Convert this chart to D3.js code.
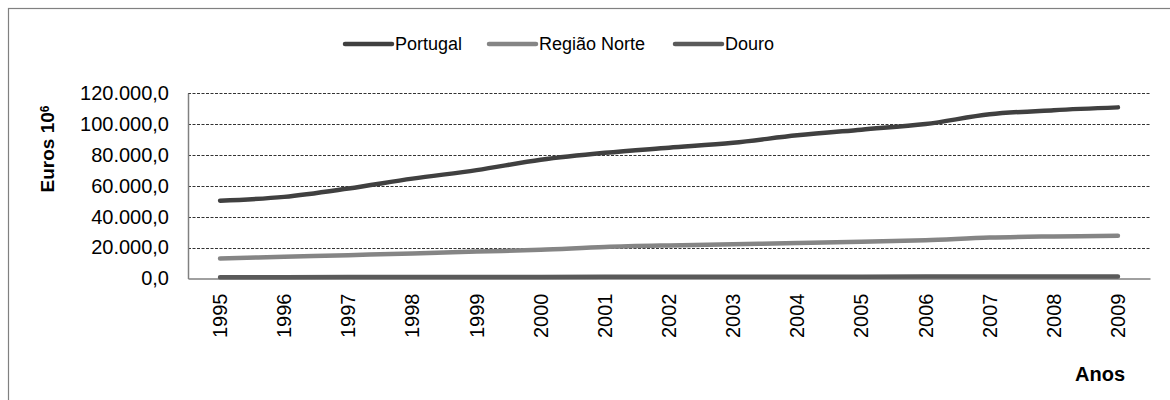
<!DOCTYPE html>
<html>
<head>
<meta charset="utf-8">
<script src="https://cdn.jsdelivr.net/npm/d3@7"></script>
<style>
  body { margin: 0; background: #fff; }
  svg { font-family: "Liberation Sans", Arial, sans-serif; }
</style>
</head>
<body>
<svg class="chart"></svg>
<script>
var anos = ["1995", "1996", "1997", "1998", "1999", "2000", "2001", "2002",
            "2003", "2004", "2005", "2006", "2007", "2008", "2009"]
var portugal = [50300, 52800, 58200, 64600, 70100, 76800, 81300, 84600,
                87800, 92600, 96300, 99900, 106200, 108900, 110700]
var regiaoNorte = [13000, 14000, 15100, 16200, 17400, 18600, 20400, 21400,
                   22100, 23000, 23800, 24800, 26500, 27200, 27600]
var douro = [800, 850, 900, 950, 1000, 1050, 1100, 1150,
             1150, 1200, 1200, 1250, 1300, 1300, 1300]
var seriesNames = ["Portugal", "Região Norte", "Douro"]
var yTicks = [0, 20000, 40000, 60000, 80000, 100000, 120000]

var width = 1170;
var height = 400;
var plotLeft = 188, plotRight = 1150, plotTop = 93, plotBottom = 278.5;
var colors = ["#404040", "#858585", "#5a5a5a"];

var pt = d3.formatLocale({decimal: ",", thousands: ".", grouping: [3], currency: ["", "€"]});
var fmt = pt.format(",.1f");

var x = d3.scaleBand()
            .domain(anos)
            .range([plotLeft, plotRight]);
var y = d3.scaleLinear()
            .domain([0, 120000])
            .range([plotBottom, plotTop]);

var svg = d3.select(".chart")
            .attr("width", width)
            .attr("height", height)

// outer frame (runs off the right and bottom like the original)
svg.append("rect")
    .attr("x", 8.5)
    .attr("y", 8.5)
    .attr("width", 1300)
    .attr("height", 500)
    .attr("fill", "none")
    .attr("stroke", "#808080")
    .attr("stroke-width", 1.2);

// dotted gridlines
svg.append("g")
    .selectAll("line")
    .data(yTicks.slice(1))
    .enter()
    .append("line")
    .attr("x1", plotLeft)
    .attr("x2", plotRight)
    .attr("y1", function(d) { return Math.round(y(d)) + 0.5; })
    .attr("y2", function(d) { return Math.round(y(d)) + 0.5; })
    .attr("stroke", "#333")
    .attr("stroke-width", 1)
    .attr("stroke-dasharray", "3,1.5");

var yAxis = d3.axisLeft()
                .scale(y)
                .tickValues(yTicks)
                .tickSize(0)
                .tickPadding(19)
                .tickFormat(fmt);

var yg = svg.append("g")
    .attr("transform", "translate(" + plotLeft + ",0)")
    .call(yAxis);
yg.select(".domain").attr("stroke", "#808080").attr("stroke-width", 1.5);
yg.selectAll("text").style("font-size", "20px").attr("fill", "#000");

var xAxis = d3.axisBottom()
                .scale(x)
                .tickSize(0);

var xg = svg.append("g")
    .attr("transform", "translate(0," + plotBottom + ")")
    .call(xAxis);
xg.select(".domain").attr("stroke", "#808080").attr("stroke-width", 1.5);
xg.selectAll("text")
    .style("font-size", "20px")
    .attr("fill", "#000")
    .attr("text-anchor", "end")
    .attr("transform", "rotate(-90)")
    .attr("x", -15)
    .attr("y", 0)
    .attr("dx", 0)
    .attr("dy", "0.35em");

var line = d3.line()
    .x(function(d, i) { return x(anos[i]) + x.bandwidth() / 2; })
    .y(function(d) { return y(d); })
    .curve(d3.curveCatmullRom.alpha(0.5));

var series = [portugal, regiaoNorte, douro];

svg.append("g")
    .selectAll("path")
    .data(series)
    .enter()
    .append("path")
    .attr("d", line)
    .attr("fill", "none")
    .attr("stroke", function(d, i) { return colors[i]; })
    .attr("stroke-width", 4.5)
    .attr("stroke-linecap", "round")
    .attr("stroke-linejoin", "round");

// legend
var legendX = [345, 489, 675];
var legend = svg.append("g")
    .selectAll("g")
    .data(seriesNames)
    .enter()
    .append("g")
    .attr("transform", function(d, i) { return "translate(" + legendX[i] + ",44)"; });

legend.append("line")
    .attr("x1", 0)
    .attr("x2", 47)
    .attr("stroke", function(d, i) { return colors[i]; })
    .attr("stroke-width", 4.5)
    .attr("stroke-linecap", "round");

legend.append("text")
    .attr("x", 50)
    .attr("dy", "0.35em")
    .style("font-size", "18px")
    .text(function(d) { return d; });

// axis titles
var yt = svg.append("text")
    .attr("transform", "translate(54,149) rotate(-90)")
    .attr("text-anchor", "middle")
    .style("font-size", "19px")
    .style("font-weight", "bold");
yt.append("tspan").text("Euros 10");
yt.append("tspan")
    .attr("dy", "-0.45em")
    .style("font-size", "12px")
    .text("6");

svg.append("text")
    .attr("x", 1125)
    .attr("y", 381)
    .attr("text-anchor", "end")
    .style("font-size", "20px")
    .style("font-weight", "bold")
    .text("Anos");
</script>
</body>
</html>
